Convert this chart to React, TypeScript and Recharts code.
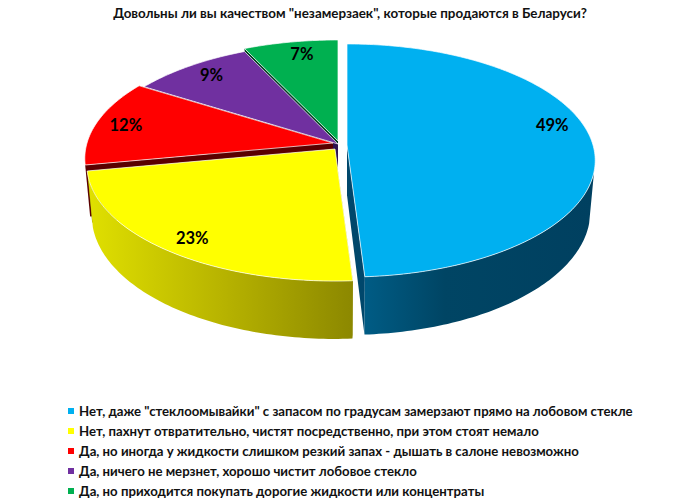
import React from "react";
import { PieChart, Pie, Legend } from "recharts";

const titleText = 'Довольны ли вы качеством "незамерзаек", которые продаются в Беларуси?';
const categories = [
  'Нет, даже "стеклоомывайки" с запасом по градусам замерзают прямо на лобовом стекле',
  "Нет, пахнут отвратительно, чистят посредственно, при этом стоят немало",
  "Да, но иногда у жидкости слишком резкий запах - дышать в салоне невозможно",
  "Да, ничего не мерзнет, хорошо чистит лобовое стекло",
  "Да, но приходится покупать дорогие жидкости или концентраты",
];
const values = [49, 23, 12, 9, 7];
const colors = ["#00B0F0", "#FFFF00", "#FF0000", "#7030A0", "#00B050"];

// Drawn back to front, so the table runs from the last category to the first.
const pieData = categories
  .map((name, i) => ({ name, value: values[i], fill: colors[i], source: i }))
  .reverse();

const FONT = "Lato, 'Open Sans', sans-serif";
const K = 0.133;
const SQUASH = 0.4654;
const DEPTH = 0.204;
const BOTTOM_SCALE = 0.98;

const EXPLODE = [
  [9, 4],
  [-3, 8],
  [-5, 2],
  [0, 3],
  [0, 0],
];
const WALLS = [
  [["0", "#005c85"], ["0.35", "#004564"], ["1", "#004060"]],
  [["0", "#e0e000"], ["0.5", "#b8b400"], ["1", "#8c8800"]],
  [["0", "#5a0000"], ["1", "#5a0000"]],
  [["0", "#2d1350"], ["1", "#2d1350"]],
  [["0", "#004020"], ["1", "#004020"]],
];
const CUT = ["#00476b", "#8c8800", "#5a0000", "#2d1350", "#004020"];
const LABEL_SHIFT = [
  [-3, -17],
  [-2, 5],
  [-6, 0],
  [1, -2],
  [5, -1],
];

type Pt = [number, number];

function project(ox: number, oy: number, r: number, deg: number, f: number, low: boolean): Pt {
  const t = (deg * Math.PI) / 180;
  const u = Math.cos(t) * f;
  const v = Math.sin(t) * f;
  const s = 1 / (1 + K * v);
  const x = ox + r * u * s * (low ? BOTTOM_SCALE : 1);
  const y = oy - r * SQUASH * v * s + (low ? r * DEPTH * s : 0);
  return [x, y];
}

function arc(ox: number, oy: number, r: number, a: number, b: number, low: boolean): Pt[] {
  const pts: Pt[] = [];
  const n = Math.max(2, Math.ceil(Math.abs(b - a)));
  for (let i = 0; i <= n; i++) pts.push(project(ox, oy, r, a + ((b - a) * i) / n, 1, low));
  return pts;
}

const toPath = (pts: Pt[]) =>
  "M" + pts.map((p) => `${p[0].toFixed(2)},${p[1].toFixed(2)}`).join("L") + "Z";

function Slice3D(props: any) {
  const { cx, cy, outerRadius: r, startAngle, endAngle, fill, payload } = props;
  const src = payload?.source ?? props.source ?? 0;
  const ox = cx + EXPLODE[src][0];
  const oy = cy + EXPLODE[src][1];
  const a = Math.min(startAngle, endAngle);
  const b = Math.max(startAngle, endAngle);
  const top = project(ox, oy, r, 0, 0, false);
  const bottom = project(ox, oy, r, 0, 0, true);
  const faces: React.ReactNode[] = [];

  [a, b].forEach((ang, i) => {
    faces.push(
      <path
        key={"cut" + i}
        d={toPath([top, bottom, project(ox, oy, r, ang, 1, true), project(ox, oy, r, ang, 1, false)])}
        fill={CUT[src]}
      />
    );
  });

  const va = Math.max(a, 193);
  const vb = Math.min(b, 347);
  const gid = "wall" + src;
  return (
    <g>
      <defs>
        <linearGradient id={gid} x1="0" y1="0" x2="1" y2="0">
          {WALLS[src].map(([o, c]) => (
            <stop key={o} offset={o} stopColor={c} />
          ))}
        </linearGradient>
      </defs>
      {faces}
      {vb > va && (
        <path
          d={toPath([...arc(ox, oy, r, va, vb, false), ...arc(ox, oy, r, vb, va, true)])}
          fill={`url(#${gid})`}
        />
      )}
      <path d={toPath([top, ...arc(ox, oy, r, a, b, false)])} fill={fill} stroke="#ffffff" strokeWidth={0.7} />
    </g>
  );
}

function SliceLabel(props: any) {
  const { cx, cy, outerRadius: r, midAngle, value, payload } = props;
  const src = payload?.source ?? 0;
  const [x, y] = project(cx + EXPLODE[src][0], cy + EXPLODE[src][1], r, midAngle, 0.85, false);
  return (
    <text
      x={x + LABEL_SHIFT[src][0]}
      y={y + LABEL_SHIFT[src][1]}
      textAnchor="middle"
      dominantBaseline="central"
      fontFamily={FONT}
      fontWeight={700}
      fontSize={16.5}
      fill="#000000"
    >
      {`${value}%`}
    </text>
  );
}

function LegendList(props: any) {
  const items = [...(props.payload ?? [])].sort(
    (p: any, q: any) => p.payload.source - q.payload.source
  );
  return (
    <div style={{ fontFamily: FONT, fontWeight: 700, fontSize: 13.2, color: "#111111" }}>
      {items.map((it: any) => (
        <div key={it.value} style={{ display: "flex", alignItems: "center", height: 20, whiteSpace: "nowrap" }}>
          <span style={{ width: 6, height: 6, background: it.color, marginRight: 5, flex: "none" }} />
          <span>{it.value}</span>
        </div>
      ))}
    </div>
  );
}

export default function App() {
  return (
    <div style={{ position: "absolute", left: 0, top: 0, width: 700, height: 504, background: "#ffffff" }}>
      <div
        style={{
          position: "absolute",
          left: 0,
          width: 700,
          top: 5,
          textAlign: "center",
          fontFamily: FONT,
          fontWeight: 700,
          fontSize: 13.4,
          color: "#111111",
          zIndex: 2,
        }}
      >
        {titleText}
      </div>
      <PieChart width={700} height={504} margin={{ top: 0, right: 0, bottom: 0, left: 0 }}>
        <Pie
          data={pieData}
          dataKey="value"
          nameKey="name"
          cx={338}
          cy={141}
          outerRadius={246}
          innerRadius={0}
          startAngle={90}
          endAngle={450}
          stroke="none"
          isAnimationActive={false}
          shape={Slice3D}
          label={SliceLabel}
          labelLine={false}
          legendType="square"
        />
        <Legend
          content={LegendList}
          wrapperStyle={{ position: "absolute", left: 68, top: 401, width: 620, height: 100, bottom: "auto" }}
        />
      </PieChart>
    </div>
  );
}
